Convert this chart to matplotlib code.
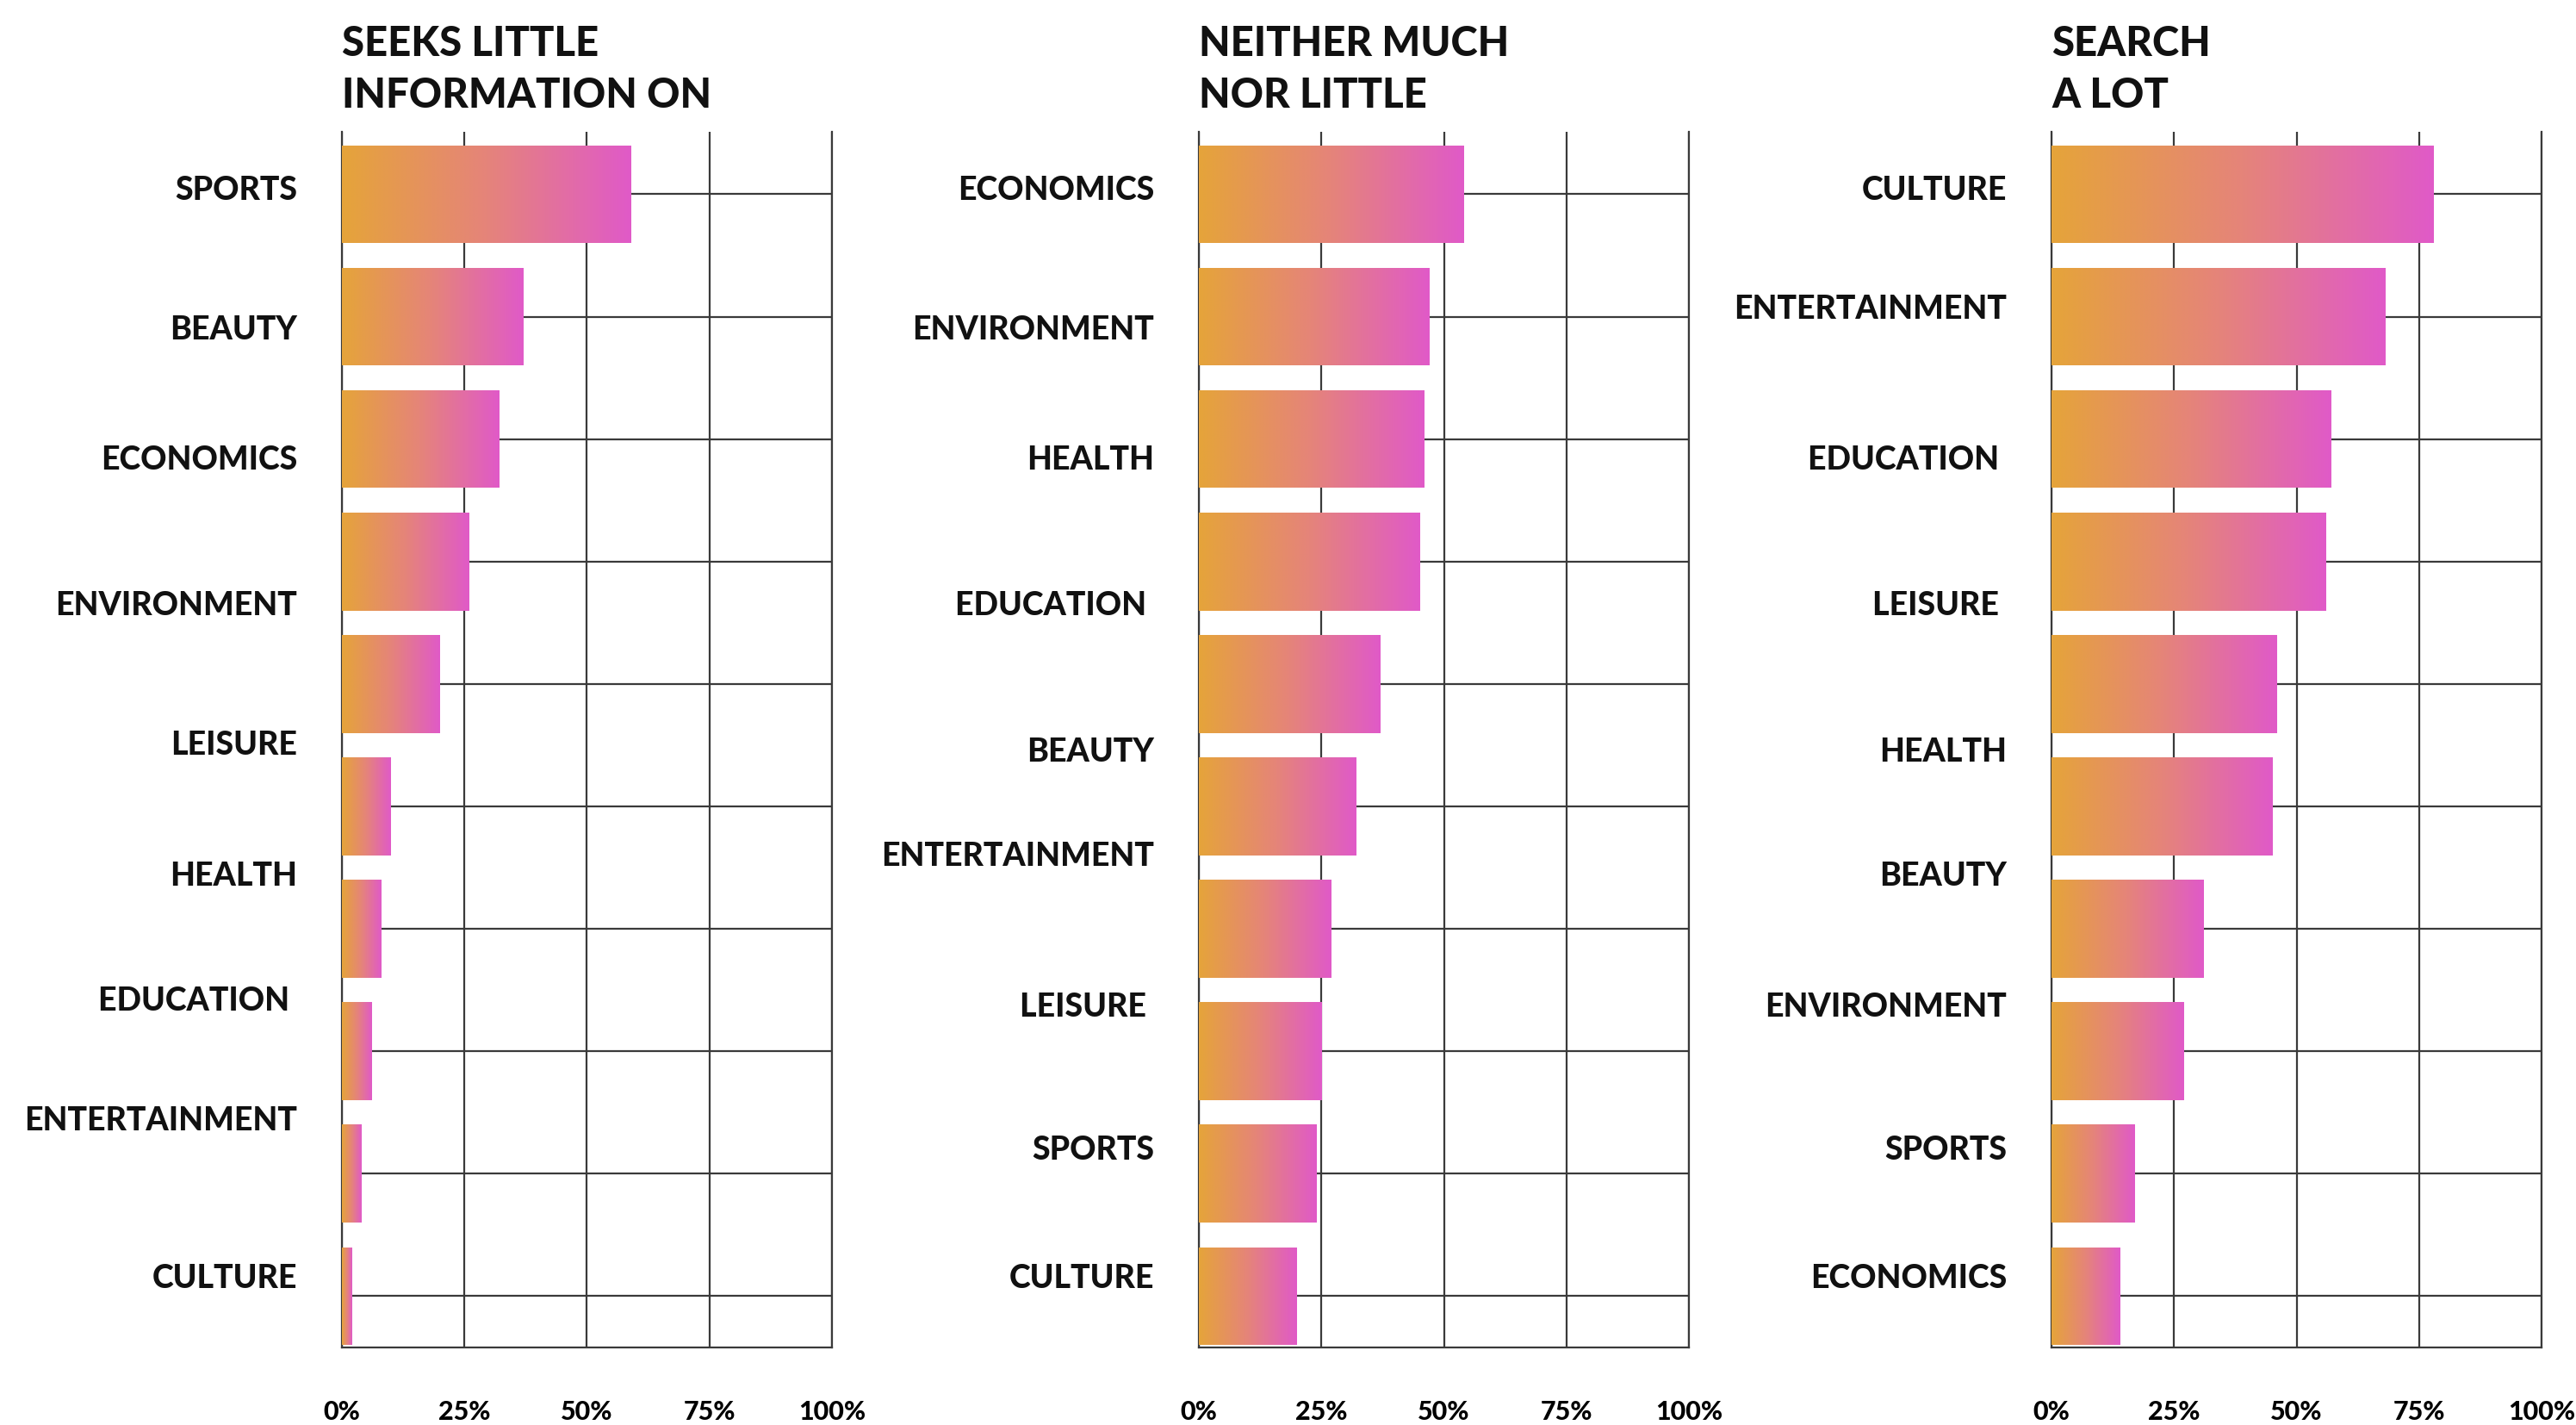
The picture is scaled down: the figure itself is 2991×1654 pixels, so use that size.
import numpy as np
import matplotlib
matplotlib.use("Agg")
import matplotlib.pyplot as plt
from matplotlib.colors import LinearSegmentedColormap

plt.rcParams['font.family'] = ['Lato', 'DejaVu Sans']
plt.rcParams['font.weight'] = 'black'

# ----------------- data -----------------
titles = ["SEEKS LITTLE\nINFORMATION ON", "NEITHER MUCH\nNOR LITTLE", "SEARCH\nA LOT"]

# bar values (%) top to bottom
little_vals = [59, 37, 32, 26, 20, 10, 8, 6, 4, 2]
neither_vals = [54, 47, 46, 45, 37, 32, 27, 25, 24, 20]
lot_vals = [78, 68, 57, 56, 46, 45, 31, 27, 17, 14]

little_labels = ["SPORTS", "BEAUTY", "ECONOMICS", "ENVIRONMENT", "LEISURE",
                 "HEALTH", "EDUCATION ", "ENTERTAINMENT", "CULTURE"]
neither_labels = ["ECONOMICS", "ENVIRONMENT", "HEALTH", "EDUCATION ", "BEAUTY",
                  "ENTERTAINMENT", "LEISURE ", "SPORTS", "CULTURE"]
lot_labels = ["CULTURE", "ENTERTAINMENT", "EDUCATION ", "LEISURE ", "HEALTH",
              "BEAUTY", "ENVIRONMENT", "SPORTS", "ECONOMICS"]

x_ticks = [0, 25, 50, 75, 100]
x_ticklabels = ["0%", "25%", "50%", "75%", "100%"]

# where each category label sits, in bar-slot units
little_label_y = [-0.03, 1.11, 2.17, 3.36, 4.50, 5.57, 6.59, 7.57, 8.86]
neither_label_y = [-0.03, 1.11, 2.17, 3.36, 4.56, 5.41, 6.64, 7.81, 8.86]
lot_label_y = [-0.03, 0.94, 2.17, 3.36, 4.56, 5.57, 6.64, 7.81, 8.86]

panels = [
    (titles[0], little_vals, little_labels, little_label_y),
    (titles[1], neither_vals, neither_labels, neither_label_y),
    (titles[2], lot_vals, lot_labels, lot_label_y),
]

# ----------------- style -----------------
grad_cmap = LinearSegmentedColormap.from_list(
    "orange_pink", ["#E5A43A", "#E5847A", "#E05AC8"])
grad = np.linspace(0, 1, 256).reshape(1, -1)
line_col = "#3a3a3a"
lw = 1.6

fig = plt.figure(figsize=(29.91, 16.54), dpi=100)
fig.patch.set_facecolor("white")

lefts = [0.1327, 0.4654, 0.7964]
width = 0.1903
bottom = 0.0544
height = 0.8531

for left, (title, vals, labels, label_y) in zip(lefts, panels):
    ax = fig.add_axes([left, bottom, width, height])
    ypos = np.arange(len(vals))

    bars = ax.barh(ypos, vals, height=0.8, facecolor="none", edgecolor="none", zorder=3)
    for b in bars:
        x0, y0 = b.get_x(), b.get_y()
        w, h = b.get_width(), b.get_height()
        im = ax.imshow(grad, cmap=grad_cmap, aspect="auto",
                       extent=[x0, x0 + w, y0 + h, y0], zorder=3,
                       interpolation="bilinear")
        im.set_clip_path(b)

    ax.set_xlim(0, 100)
    ax.set_ylim(9.42, -0.51)
    ax.set_aspect("auto")

    ax.set_xticks(x_ticks)
    ax.set_xticklabels(x_ticklabels, fontsize=22, fontweight="black")
    ax.set_yticks(ypos)
    ax.set_yticklabels([])
    ax.tick_params(length=0, pad=44)
    ax.grid(True, color=line_col, lw=lw)
    ax.set_axisbelow(True)

    for side in ["left", "right", "bottom"]:
        ax.spines[side].set_color(line_col)
        ax.spines[side].set_linewidth(lw)
    ax.spines["top"].set_visible(False)

    for lab, yy in zip(labels, label_y):
        ax.text(-0.091, yy, lab, transform=ax.get_yaxis_transform(),
                ha="right", va="center", fontsize=27, fontweight="black",
                color="#111111")

    ax.text(0, 1.088, title, transform=ax.get_xaxis_transform(),
            ha="left", va="top", fontsize=34, fontweight="black",
            color="#111111", linespacing=1.45)

fig.savefig("out.png", dpi=100, facecolor="white")
